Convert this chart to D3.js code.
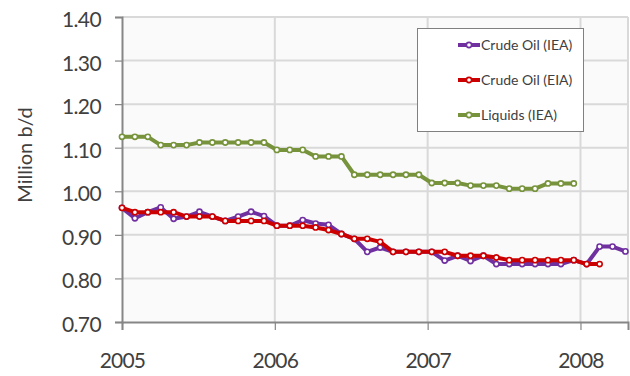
<!DOCTYPE html>
<html>
<head>
<meta charset="utf-8">
<script src="https://cdn.jsdelivr.net/npm/d3@7"></script>
<style>
  html, body { margin: 0; padding: 0; background: #ffffff; }
  svg { display: block; }
  text { font-family: Lato, "Open Sans", sans-serif; fill: #404040; }
</style>
</head>
<body>
<svg id="chart" width="630" height="376"></svg>
<script>
// ---- data (monthly, starting Jan 2005) ----
const startYear = 2005;
const yearTicks = [2005, 2006, 2007, 2008];
const yTicks = [0.70, 0.80, 0.90, 1.00, 1.10, 1.20, 1.30, 1.40];
const seriesNames = ["Crude Oil (IEA)", "Crude Oil (EIA)", "Liquids (IEA)"];

const crudeIEA = [0.962, 0.938, 0.952, 0.963, 0.937, 0.942, 0.953, 0.942, 0.932, 0.942,
  0.953, 0.943, 0.921, 0.921, 0.934, 0.926, 0.923, 0.902, 0.891, 0.861,
  0.871, 0.861, 0.861, 0.861, 0.861, 0.841, 0.852, 0.840, 0.852, 0.833,
  0.833, 0.833, 0.833, 0.833, 0.833, 0.842, 0.833, 0.873, 0.873, 0.862];

const crudeEIA = [0.962, 0.952, 0.952, 0.952, 0.952, 0.942, 0.942, 0.942, 0.932, 0.932,
  0.932, 0.932, 0.921, 0.921, 0.921, 0.917, 0.911, 0.902, 0.891, 0.891,
  0.884, 0.861, 0.861, 0.861, 0.861, 0.861, 0.852, 0.852, 0.852, 0.848,
  0.842, 0.842, 0.842, 0.842, 0.842, 0.842, 0.833, 0.833];

const liquidsIEA = [1.125, 1.125, 1.125, 1.106, 1.106, 1.106, 1.112, 1.112, 1.112, 1.112,
  1.112, 1.112, 1.095, 1.095, 1.095, 1.080, 1.080, 1.080, 1.038, 1.038,
  1.038, 1.038, 1.038, 1.038, 1.019, 1.019, 1.019, 1.013, 1.013, 1.013,
  1.006, 1.006, 1.006, 1.018, 1.018, 1.018];

// ---- layout ----
const svg = d3.select("#chart");
const mLeft = 122, mRight = 628, mTop = 17, mBottom = 322;

// months since Jan 2005 for the marks
const x = d3.scaleLinear().domain([0, 39.2]).range([mLeft, mRight]);
// axis in years (the original's year ticks sit slightly tighter than the month marks)
const xYear = d3.scaleLinear().domain([startYear, startYear + 3.311]).range([mLeft, mRight]);
const y = d3.scaleLinear().domain([0.70, 1.40]).range([mBottom, mTop]);

// plot background
svg.append("rect").attr("x", mLeft).attr("y", mTop)
  .attr("width", mRight - mLeft).attr("height", mBottom - mTop)
  .attr("fill", "#fafafa");

// horizontal gridlines
svg.append("g").selectAll("line").data(yTicks.filter(v => v > 0.70)).join("line")
  .attr("x1", mLeft).attr("x2", mRight)
  .attr("y1", d => y(d)).attr("y2", d => y(d))
  .attr("stroke", "#d9d9d9").attr("stroke-width", 2);

// vertical gridlines
svg.append("g").selectAll("line").data(yearTicks.filter(v => v > startYear)).join("line")
  .attr("x1", d => xYear(d)).attr("x2", d => xYear(d))
  .attr("y1", mTop).attr("y2", mBottom)
  .attr("stroke", "#d9d9d9").attr("stroke-width", 2);
svg.append("line").attr("x1", mRight).attr("x2", mRight).attr("y1", mTop).attr("y2", mBottom)
  .attr("stroke", "#d9d9d9").attr("stroke-width", 2);

// y axis
const yAxis = d3.axisLeft(y).tickValues(yTicks).tickFormat(d3.format(".2f"))
  .tickSize(7).tickPadding(14);
const gy = svg.append("g").attr("transform", `translate(${mLeft},0)`).call(yAxis);
gy.select(".domain").attr("stroke", "#868686").attr("stroke-width", 2);
gy.selectAll(".tick line").attr("stroke", "#868686").attr("stroke-width", 1.2);
gy.selectAll(".tick text")
  .attr("font-family", "Lato, 'Open Sans', sans-serif")
  .attr("font-size", 21).attr("letter-spacing", -0.6)
  .attr("fill", "#404040").attr("dy", "0.45em");

// x axis
const xAxis = d3.axisBottom(xYear).tickValues(yearTicks).tickFormat(d3.format("d"))
  .tickSize(8).tickPadding(23);
const gx = svg.append("g").attr("transform", `translate(0,${mBottom})`).call(xAxis);
gx.select(".domain").attr("stroke", "#868686").attr("stroke-width", 2);
gx.selectAll(".tick line").attr("stroke", "#868686").attr("stroke-width", 1.2);
gx.selectAll(".tick text")
  .attr("font-family", "Lato, 'Open Sans', sans-serif")
  .attr("font-size", 21).attr("letter-spacing", -0.8)
  .attr("fill", "#404040");

// y axis title
svg.append("text")
  .attr("transform", "translate(32,155) rotate(-90)")
  .attr("text-anchor", "middle")
  .attr("font-size", 20)
  .text("Million b/d");

// ---- series ----
const colors = ["#7030a0", "#cc0000", "#77933c"];
const allSeries = [crudeIEA, crudeEIA, liquidsIEA];
const line = d3.line().x((d, i) => x(i)).y(d => y(d));

allSeries.forEach((vals, k) => {
  const g = svg.append("g");
  g.append("path").datum(vals)
    .attr("d", line)
    .attr("fill", "none")
    .attr("stroke", colors[k])
    .attr("stroke-width", 4)
    .attr("stroke-linejoin", "round");
  g.selectAll("circle").data(vals).join("circle")
    .attr("cx", (d, i) => x(i)).attr("cy", d => y(d))
    .attr("r", 2.6)
    .attr("fill", "#ffffff")
    .attr("stroke", colors[k])
    .attr("stroke-width", 1.6);
});

// ---- legend ----
const lg = svg.append("g");
lg.append("rect").attr("x", 417.5).attr("y", 28.5).attr("width", 166).attr("height", 103)
  .attr("fill", "#ffffff").attr("stroke", "#808080").attr("stroke-width", 1);
seriesNames.forEach((name, k) => {
  const cy = 45 + k * 35;
  lg.append("line").attr("x1", 458).attr("x2", 480).attr("y1", cy).attr("y2", cy)
    .attr("stroke", colors[k]).attr("stroke-width", 4);
  lg.append("circle").attr("cx", 469).attr("cy", cy).attr("r", 2.6)
    .attr("fill", "#ffffff").attr("stroke", colors[k]).attr("stroke-width", 1.6);
  lg.append("text").attr("x", 481).attr("y", cy).attr("dy", "0.36em")
    .attr("font-size", 14).text(name);
});
</script>
</body>
</html>
